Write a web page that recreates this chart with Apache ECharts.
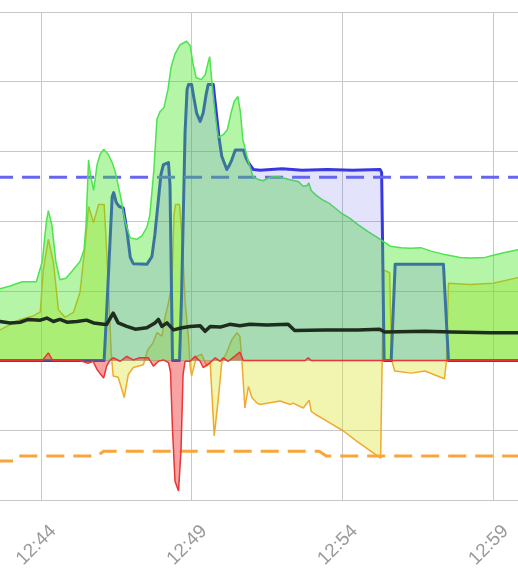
<!DOCTYPE html>
<html><head><meta charset="utf-8">
<script src="https://cdn.jsdelivr.net/npm/echarts@6/dist/echarts.min.js"></script>
<style>html,body{margin:0;padding:0;background:#fff;overflow:hidden;width:518px;height:585px;position:relative}
#c{position:absolute;left:-110px;top:0;width:754px;height:585px}</style>
</head><body><div id="c"></div>
<script>
// time axis origin and tick labels
const BASE = '12:44:00';
const X_MIN = '12:39:00', X_MAX = '13:04:00';
const TICK_STEP_MIN = 5;
const Y_MIN = -200, Y_MAX = 500, Y_STEP = 100;

// series data [time, value]
const production = [['12:42:29',102],['12:42:39',103],['12:42:59',107],['12:43:23',113],['12:43:51',113],['12:44:03',142],['12:44:11',199],['12:44:15',215],['12:44:22',195],['12:44:30',142],['12:44:38',116],['12:44:50',118],['12:45:02',128],['12:45:18',142],['12:45:26',159],['12:45:30',195],['12:45:35',288],['12:45:38',270],['12:45:45',244],['12:45:52',281],['12:45:58',296],['12:46:05',303],['12:46:14',296],['12:46:22',284],['12:46:28',271],['12:46:38',238],['12:46:48',199],['12:46:58',176],['12:47:11',174],['12:47:21',179],['12:47:31',191],['12:47:37',209],['12:47:45',274],['12:47:51',346],['12:47:57',357],['12:48:05',363],['12:48:13',389],['12:48:19',420],['12:48:27',440],['12:48:37',453],['12:48:50',458],['12:48:57',452],['12:49:03',425],['12:49:09',406],['12:49:19',403],['12:49:27',410],['12:49:33',428],['12:49:36',436],['12:49:40',403],['12:49:47',353],['12:49:53',320],['12:50:03',324],['12:50:11',331],['12:50:19',357],['12:50:25',372],['12:50:32',379],['12:50:37',357],['12:50:42',317],['12:50:52',288],['12:51:02',264],['12:51:12',260],['12:51:22',258],['12:51:36',263],['12:51:52',264],['12:52:12',260],['12:52:32',257],['12:52:42',250],['12:52:50',251],['12:52:53',255],['12:52:58',244],['12:53:08',237],['12:53:20',231],['12:53:35',225],['12:53:57',212],['12:54:15',204],['12:54:31',195],['12:54:51',185],['12:55:11',176],['12:55:35',164],['12:55:57',162],['12:56:15',161],['12:56:36',162],['12:56:56',157],['12:57:24',152],['12:57:54',148],['12:58:16',147],['12:58:44',148],['12:59:00',151],['12:59:23',155],['12:59:49',159],['13:00:09',162]];

const charging = [['12:42:29',0],['12:46:06',0],['12:46:11',70],['12:46:22',235],['12:46:25',241],['12:46:30',227],['12:46:36',221],['12:46:44',219],['12:46:51',188],['12:46:58',148],['12:47:04',139],['12:47:31',138],['12:47:41',149],['12:47:47',181],['12:47:54',231],['12:47:59',267],['12:48:04',281],['12:48:14',284],['12:48:17',252],['12:48:20',100],['12:48:22',0],['12:48:36',0],['12:48:40',92],['12:48:47',327],['12:48:51',389],['12:48:54',396],['12:49:00',396],['12:49:05',375],['12:49:10',355],['12:49:17',343],['12:49:23',355],['12:49:29',382],['12:49:33',396],['12:49:43',396],['12:49:50',350],['12:49:55',317],['12:50:00',293],['12:50:10',274],['12:50:15',280],['12:50:20',288],['12:50:27',302],['12:50:43',302],['12:50:48',291],['12:50:53',284],['12:51:03',274],['12:51:16',273],['12:52:00',275],['12:52:40',273],['12:53:30',274],['12:54:20',273],['12:55:15',274],['12:55:18',270],['12:55:23',0],['12:55:37',0],['12:55:45',138],['12:57:21',138],['12:57:31',0],['13:00:09',0]];

const grid = [['12:42:29',0],['12:44:03',0],['12:44:15',11],['12:44:24',0],['12:45:18',0],['12:45:34',-4],['12:45:44',-1],['12:45:52',-13],['12:46:05',-25],['12:46:11',-8],['12:46:18',1],['12:46:24',4],['12:46:38',-1],['12:46:51',6],['12:47:04',1],['12:47:17',4],['12:47:34',4],['12:47:44',-8],['12:47:54',-1],['12:48:04',1],['12:48:14',-3],['12:48:18',-16],['12:48:22',-99],['12:48:27',-173],['12:48:34',-187],['12:48:39',-128],['12:48:43',-20],['12:48:47',-1],['12:48:57',-1],['12:49:07',6],['12:49:17',-1],['12:49:23',-10],['12:49:37',-3],['12:49:47',4],['12:49:57',-1],['12:50:03',4],['12:50:13',-1],['12:50:36',12],['12:50:43',0],['12:52:46',0],['12:52:52',4],['12:52:58',0],['13:00:09',0]];

const surplus = [['12:42:29',42],['12:42:39',44],['12:43:19',59],['12:43:45',64],['12:43:59',70],['12:44:05',130],['12:44:15',174],['12:44:25',141],['12:44:35',73],['12:44:48',62],['12:45:05',69],['12:45:18',98],['12:45:28',164],['12:45:35',221],['12:45:45',198],['12:45:55',224],['12:46:06',224],['12:46:14',116],['12:46:20',11],['12:46:24',-22],['12:46:34',-24],['12:46:46',-53],['12:46:54',-20],['12:47:04',-10],['12:47:24',-6],['12:47:33',16],['12:47:43',25],['12:47:51',40],['12:48:01',35],['12:48:07',62],['12:48:14',83],['12:48:21',112],['12:48:25',209],['12:48:28',224],['12:48:36',224],['12:48:41',176],['12:48:47',85],['12:48:54',30],['12:48:57',-8],['12:49:00',-22],['12:49:10',6],['12:49:20',9],['12:49:30',-8],['12:49:37',-3],['12:49:45',-108],['12:49:53',-56],['12:50:00',-3],['12:50:10',12],['12:50:20',30],['12:50:30',40],['12:50:36',35],['12:50:40',1],['12:50:46',-68],['12:50:53',-37],['12:51:00',-53],['12:51:10',-61],['12:51:16',-63],['12:51:56',-58],['12:52:16',-63],['12:52:22',-61],['12:52:42',-68],['12:52:54',-57],['12:52:58',-73],['12:53:06',-77],['12:53:29',-87],['12:54:02',-101],['12:54:29',-116],['12:55:16',-140],['12:55:22',130],['12:55:34',126],['12:55:38',1],['12:55:44',-15],['12:56:17',-18],['12:56:44',-15],['12:57:23',-26],['12:57:27',-1],['12:57:31',111],['12:58:14',109],['12:59:00',111],['12:59:49',119],['13:00:09',120]];

const consumption = [['12:42:29',57],['12:42:39',56],['12:42:59',54],['12:43:19',55],['12:43:35',59],['12:43:59',58],['12:44:12',61],['12:44:25',56],['12:44:38',59],['12:44:52',55],['12:45:12',56],['12:45:31',58],['12:45:45',54],['12:46:05',52],['12:46:11',52],['12:46:24',68],['12:46:34',54],['12:46:51',49],['12:47:08',45],['12:47:31',47],['12:47:47',54],['12:47:54',59],['12:48:01',49],['12:48:11',54],['12:48:24',44],['12:48:41',47],['12:48:57',49],['12:49:17',50],['12:49:27',42],['12:49:37',49],['12:49:57',48],['12:50:16',52],['12:50:36',50],['12:50:56',52],['12:51:30',51],['12:52:12',52],['12:52:25',43],['12:53:25',44],['12:54:31',44],['12:55:14',45],['12:55:24',41],['12:56:44',42],['12:57:37',41],['12:58:56',40],['13:00:09',40]];

const chargeLimit = [['12:42:29',263],['13:00:09',263]];
const gridLimit = [['12:42:29',-144],['12:43:06',-144],['12:43:12',-137],['12:45:52',-137],['12:46:05',-130],['12:53:14',-130],['12:53:28',-137],['13:00:09',-137]];

function sec(t){const p=t.split(':').map(Number);return p[0]*3600+p[1]*60+(p[2]||0);}
const b = sec(BASE);
const conv = arr => arr.map(([t,v]) => [sec(t)-b, v]);
function fmt(v){const s=b+v;const h=Math.floor(s/3600);const m=Math.floor((s%3600)/60);return h+':'+String(m).padStart(2,'0');}

const chart = echarts.init(document.getElementById('c'), null, {renderer:'canvas'});
const base = {type:'line', showSymbol:false, symbol:'none', animation:false, silent:true};
chart.setOption({
  animation:false,
  grid:{left:0, right:0, top:12, bottom:85, containLabel:false, outerBoundsMode:'none'},
  xAxis:{type:'value', min:sec(X_MIN)-b, max:sec(X_MAX)-b, interval:TICK_STEP_MIN*60,
    axisLine:{show:true, lineStyle:{color:'#c8c8c8', width:1}},
    axisTick:{show:true, length:14, lineStyle:{color:'#c8c8c8'}},
    splitLine:{show:true, lineStyle:{color:'#c8c8c8', width:1}},
    axisLabel:{rotate:45, color:'#9a9a9a', fontSize:19, fontFamily:'Liberation Sans, Arial, sans-serif', margin:16, verticalAlign:'top', padding:[8,0,0,0], formatter:fmt}},
  yAxis:{type:'value', min:Y_MIN, max:Y_MAX, interval:Y_STEP,
    axisLine:{show:false}, axisTick:{show:false}, axisLabel:{show:false},
    splitLine:{show:true, lineStyle:{color:'#c8c8c8', width:1}}},
  series:[
    Object.assign({}, base, {name:'surplus', data:conv(surplus), z:1,
      lineStyle:{color:'#f0aa30', width:1.5}, areaStyle:{color:'rgba(215,226,20,0.34)', opacity:1}}),
    Object.assign({}, base, {name:'gridLimit', data:conv(gridLimit), z:1,
      lineStyle:{color:'#f7a53c', width:3, type:[18,9]}}),
    Object.assign({}, base, {name:'charging', data:conv(charging), z:1,
      lineStyle:{color:'#3535e0', width:3, join:'round', cap:'round'}}),
    Object.assign({}, base, {name:'chargeLimit', data:conv(chargeLimit), z:1,
      lineStyle:{color:'#6666f0', width:3, type:[18,9]}}),
    Object.assign({}, base, {name:'production', data:conv(production), z:2,
      lineStyle:{color:'#4fe44f', width:1.5}, areaStyle:{color:'rgba(57,230,27,0.38)', opacity:1}}),
    Object.assign({}, base, {name:'chargingArea', data:conv(charging), z:3,
      lineStyle:{width:0, opacity:0}, areaStyle:{color:'rgba(100,100,235,0.18)', opacity:1}}),
    Object.assign({}, base, {name:'grid', data:conv(grid), z:4,
      lineStyle:{color:'#e83535', width:1.5}, areaStyle:{color:'rgba(240,50,50,0.45)', opacity:1}}),
    Object.assign({}, base, {name:'consumption', data:conv(consumption), z:5,
      lineStyle:{color:'#1f2d1f', width:3.5, join:'round'}})
  ]
});
</script></body></html>
